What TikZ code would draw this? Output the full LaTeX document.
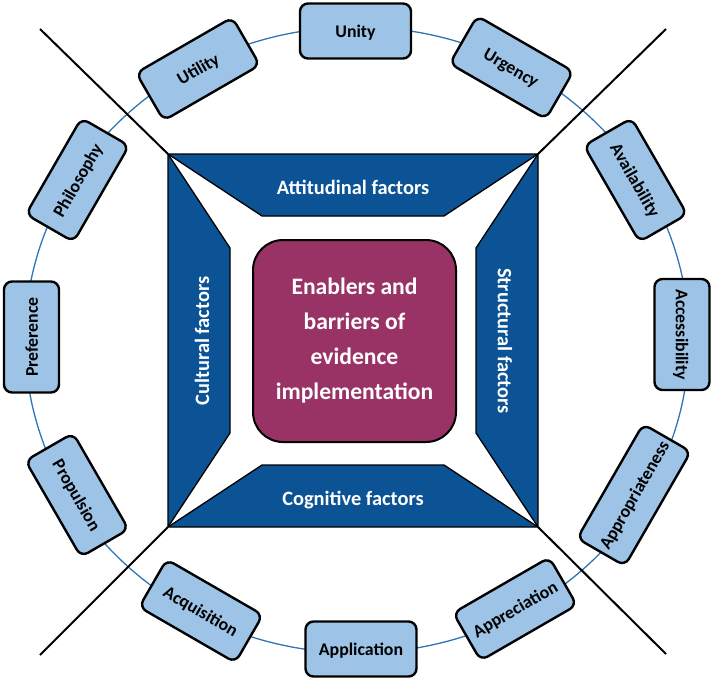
\documentclass[tikz,border=0pt]{standalone}
\usepackage{fontspec}
\setmainfont{Carlito}
\definecolor{boxblue}{RGB}{157,195,230}
\definecolor{darkblue}{RGB}{11,83,148}
\definecolor{coremaroon}{RGB}{153,51,102}
\definecolor{ringblue}{RGB}{46,117,182}
\begin{document}
\begin{tikzpicture}[x=1pt,y=-1pt,
  itembox/.style={draw=black, line width=2.4pt, fill=boxblue, rounded corners=8pt,
    minimum width=111pt, minimum height=55pt, inner sep=0pt,
    text height=13pt, text depth=0.5pt,
    font=\fontsize{17.8}{20}\selectfont\bfseries, text=black},
  wedgeshape/.style={fill=darkblue, draw=black, line width=1.3pt, line join=miter},
  factorlabel/.style={text=white, inner sep=0pt, font=\fontsize{20.4}{24}\selectfont\bfseries},
  divider/.style={line width=2pt, draw=black},
  ring/.style={draw=ringblue, line width=1.3pt}]
\useasboundingbox (0,0) rectangle (714,680);
% ring
\draw[ring] (357,340) ellipse [x radius=332pt, y radius=313pt];
% square corners and free ends of dividers
\coordinate (TL) at (168,154);
\coordinate (TR) at (538,154);
\coordinate (BL) at (168,527);
\coordinate (BR) at (538,527);
\coordinate (eTL) at (40,29);
\coordinate (eTR) at (666,29);
\coordinate (eBL) at (40,655);
\coordinate (eBR) at (666,654);
\draw[divider] (TL) -- (eTL);
\draw[divider] (TR) -- (eTR);
\draw[divider] (BL) -- (eBL);
\draw[divider] (BR) -- (eBR);
% trapezoids
\draw[wedgeshape] (TL) -- (TR) -- (444,216) -- (262,216) -- cycle;
\draw[wedgeshape] (TL) -- (230,248) -- (230,433) -- (BL) -- cycle;
\draw[wedgeshape] (BL) -- (262,465) -- (444,465) -- (BR) -- cycle;
\draw[wedgeshape] (TR) -- (476,248) -- (476,433) -- (BR) -- cycle;
\node[factorlabel, anchor=base] (att) at (353,194) {Attitudinal factors};
\node[factorlabel, anchor=base] (cog) at (353,505) {Cognitive factors};
\node[factorlabel, rotate=90] (cul) at (202,341) {Cultural factors};
\node[factorlabel, rotate=-90] (str) at (505,341) {Structural factors};
% core
\node[draw=black, line width=2pt, fill=coremaroon, rounded corners=30pt,
  minimum width=203pt, minimum height=202pt, text=white, align=center,
  font=\fontsize{23.6}{35}\selectfont\bfseries] (core) at (354.5,341)
  {Enablers and\\barriers of\\evidence\\implementation};
% outer items
\node[itembox] (unity) at (355.5,31) {Unity};
\node[itembox, rotate=30] (utility) at (198,69) {Utility};
\node[itembox, rotate=60] (philosophy) at (77.5,180) {Philosophy};
\node[itembox, rotate=90] (preference) at (31.5,337) {Preference};
\node[itembox, rotate=-60] (propulsion) at (77,495) {Propulsion};
\node[itembox, rotate=-30] (acquisition) at (201,611) {Acquisition};
\node[itembox] (application) at (361,649) {Application};
\node[itembox, rotate=30] (appreciation) at (515,609) {Appreciation};
\node[itembox, rotate=60, minimum width=132pt] (appropriateness) at (634,495) {Appropriateness};
\node[itembox, rotate=-90] (accessibility) at (682,334.5) {Accessibility};
\node[itembox, rotate=-60] (availability) at (635.5,180) {Availability};
\node[itembox, rotate=-30] (urgency) at (511.5,67.5) {Urgency};
\end{tikzpicture}
\end{document}
